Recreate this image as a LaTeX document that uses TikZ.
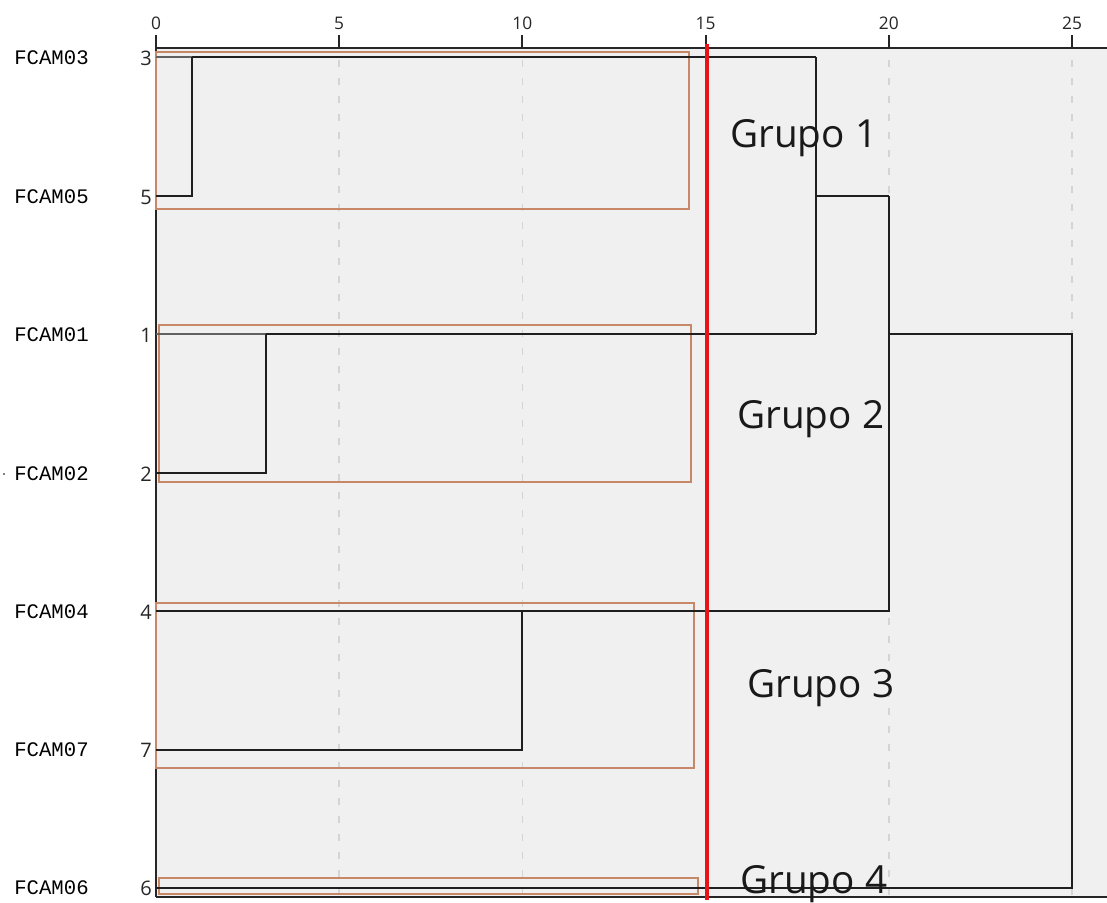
\documentclass[tikz,border=0pt]{standalone}
\usepackage{fontspec}
\setmainfont{Open Sans}
\newfontfamily\casefont{Liberation Mono}
\definecolor{bgc}{RGB}{240,240,240}
\definecolor{gridc}{RGB}{212,212,212}
\definecolor{boxc}{RGB}{198,136,102}
\definecolor{cutc}{RGB}{230,20,25}
\begin{document}
\begin{tikzpicture}[x=0.75pt,y=-0.75pt,
  link/.style={draw=black!88, line width=1.5pt},
  stub/.style={draw=black!62, line width=1.5pt},
  grpbox/.style={draw=boxc, line width=1.1pt},
  gridline/.style={draw=gridc, line width=1.3pt, dash pattern=on 5.25pt off 8.25pt},
  axisline/.style={draw=black!85, line width=1.4pt},
  cutline/.style={draw=cutc, line width=3pt},
  case/.style={font=\casefont\fontsize{15.5}{18}\selectfont, anchor=west, inner sep=0pt},
  idx/.style={font=\fontsize{15}{17}\selectfont, anchor=east, inner sep=0pt, text=black!85},
  ticklab/.style={font=\fontsize{13}{15}\selectfont, inner sep=0pt, text=black!85},
  grp/.style={font=\fontsize{29}{34}\selectfont, anchor=base west, inner sep=0pt, text=black!90}]
\useasboundingbox (0,0) rectangle (1107,903);

% plot area
\fill[bgc] (156,48) rectangle (1107,897);

% vertical dashed grid and axis ticks (0..25, 36.64 px per unit)
\foreach \v in {5,10,15,20,25}
  \draw[gridline] ({156+36.64*\v},60) -- ({156+36.64*\v},897);
\foreach \v in {0,5,10,15,20,25} {
  \draw[axisline] ({156+36.64*\v},35) -- ({156+36.64*\v},48);
  \node[ticklab] (t\v) at ({156+36.64*\v},23) {\v};
}
\draw[axisline] (156,48) -- (1107,48);
\draw[axisline] (156,36) -- (156,897);
\draw[axisline] (156,897) -- (1107,897);

% group boxes
\draw[grpbox] (156,52) rectangle (689,209);
\draw[grpbox] (159,325) rectangle (691,482);
\draw[grpbox] (156,603) rectangle (694,768);
\draw[grpbox] (159,878) rectangle (698,894);

% leaves
\coordinate (l3) at (156,57);
\coordinate (l5) at (156,196);
\coordinate (l1) at (156,334);
\coordinate (l2) at (156,473);
\coordinate (l4) at (156,611);
\coordinate (l7) at (156,750);
\coordinate (l6) at (156,888);

% merge heights
\coordinate (j35) at (192,57);
\coordinate (j12) at (266,334);
\coordinate (j47) at (522,611);
\coordinate (jA) at (816,57);
\coordinate (jB) at (889,196);
\coordinate (jC) at (1072,334);

% dendrogram
\draw[stub] (l3) -- (j35);
\draw[stub] (l5) -- (l5 -| j35);
\draw[stub] (l1) -- (j12);
\draw[stub] (l2) -- (l2 -| j12);
\draw[link] (j35) -- (l5 -| j35) -- (l5);
\draw[link] (j35) -- (jA);
\draw[link] (j12) -- (l2 -| j12) -- (l2);
\draw[link] (j12) -- (j12 -| jA);
\draw[link] (jA) -- (j12 -| jA);
\draw[link] (jA |- jB) -- (jB);
\draw[link] (jB) -- (l4 -| jB) -- (l4);
\draw[link] (l7) -- (l7 -| j47) -- (j47);
\draw[link] (j12 -| jB) -- (jC) -- (l6 -| jC) -- (l6);

% cut line
\draw[cutline] (707,44) -- (707,900);

% case labels
\node[case] (c3) at (14,58) {FCAM03};
\node[case] (c5) at (14,197) {FCAM05};
\node[case] (c1) at (14,335) {FCAM01};
\node[case] (c2) at (14,474) {FCAM02};
\node[case] (c4) at (14,612) {FCAM04};
\node[case] (c7) at (14,750) {FCAM07};
\node[case] (c6) at (14,888) {FCAM06};
\fill (4,474) circle (0.8);

\node[idx] (n3) at (152,58) {3};
\node[idx] (n5) at (152,197) {5};
\node[idx] (n1) at (152,335) {1};
\node[idx] (n2) at (152,474) {2};
\node[idx] (n4) at (152,612) {4};
\node[idx] (n7) at (152,750) {7};
\node[idx] (n6) at (152,888) {6};

% group labels
\node[grp] (g1) at (730,147) {Grupo 1};
\node[grp] (g2) at (737,428) {Grupo 2};
\node[grp] (g3) at (747,697) {Grupo 3};
\node[grp] (g4) at (740,893) {Grupo 4};
\end{tikzpicture}
\end{document}
